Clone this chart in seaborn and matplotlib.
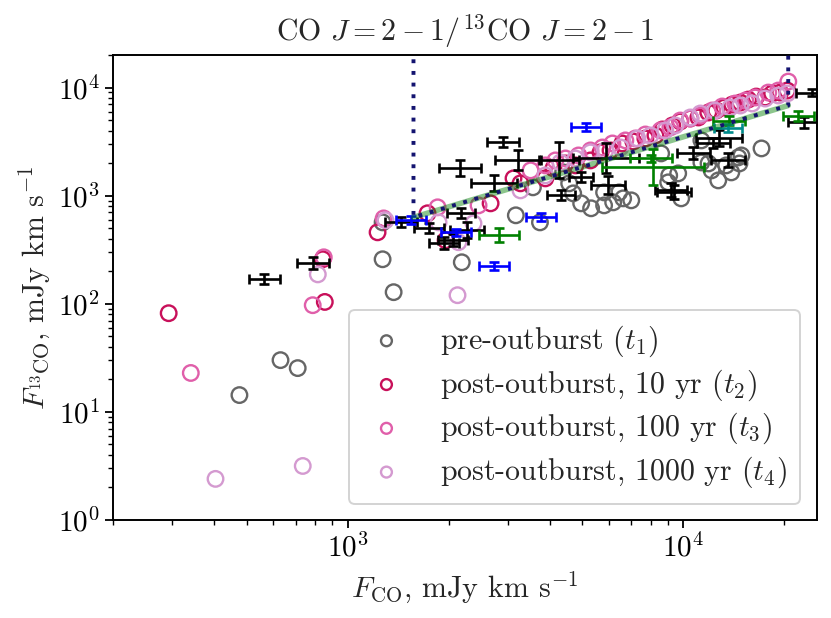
import numpy as np
import pandas as pd
import matplotlib
matplotlib.use("Agg")
import matplotlib.pyplot as plt
import seaborn as sns

# ---------------- data ----------------
# pre-outburst (t1)
t1_x = [476, 631, 710, 1271, 1271, 1371, 2188, 3170, 3741, 3565, 4571, 4699, 4963, 5313,
        5808, 6181, 6620, 6998, 6442, 5808, 4385, 9078, 9656, 9015, 9857, 11320, 11890,
        12140, 12710, 13900, 14590, 17100, 13420, 14700, 14900, 11320, 8590]
t1_y = [14.3, 30.1, 25.4, 566, 258, 128, 242, 658, 566, 1194, 1300, 1050, 849, 764,
        813, 867, 944, 905, 1072, 1072, 1641, 1538, 1607, 1328, 944, 2028, 1985,
        1713, 1384, 1641, 2259, 2735, 1905, 1985, 2355, 3243, 2459]

# post-outburst 10 yr (t2)
t2_x = [293, 855, 843, 1228, 1730, 1958, 2666, 3120, 3273, 3882, 4103, 4456, 4773, 5290,
        5666, 6070, 6580, 7098, 7710, 8260, 8665, 9275, 9795, 10490, 11090, 11870, 12540,
        13250, 13990, 14790, 15610, 16490, 17540, 18400, 19440, 20400]
t2_y = [81.8, 104, 258, 458, 687, 387, 849, 1445, 1300, 1445, 1788, 1987, 1905, 2118,
        2512, 2620, 3040, 3170, 3380, 3605, 4095, 4459, 4855, 5175, 5287, 5876, 6136,
        6537, 6966, 7265, 7742, 8255, 8089, 8812, 8989, 9382]

# post-outburst 100 yr (t3)
t3_x = [341, 787, 849, 1280, 1854, 2455, 3508, 3882, 4159, 4456, 4873, 5290, 5740, 6150,
        6720, 7200, 7710, 8550, 9150, 9795, 10490, 11240, 12200, 13060, 14280, 15300,
        16380, 17910, 19180, 20550]
t3_y = [22.9, 97.0, 269, 616, 780, 813, 1714, 1905, 2118, 2208, 2355, 2620, 2790, 3040,
        3243, 3380, 3680, 4010, 4276, 4955, 5175, 5508, 6136, 6680, 7117, 7585,
        8089, 8989, 9382, 11360]

# post-outburst 1000 yr (t4)
t4_x = [404, 735, 815, 2125, 1297, 1866, 2371, 2139, 3273, 3882, 4305, 4773, 5290, 5860,
        6500, 7300, 7980, 8840, 9470, 10490, 11240, 12450, 13800, 14790, 16040, 17540,
        19180, 20400]
t4_y = [2.40, 3.16, 187, 120, 592, 566, 555, 371, 1119, 1538, 2028, 2208, 2512, 2620,
        2790, 3380, 3605, 4010, 4459, 5287, 5755, 6136, 6537, 6820, 7117, 7912,
        8440, 8812]

# observed fluxes with uncertainties (errors given in dex)
obs_black_x = [565, 787, 1439, 1746, 2173, 2265, 1936, 2057, 2904, 2158, 2729, 3215, 4266,
               5890, 4963, 5970, 4326, 9400, 10720, 12800, 12300, 13610, 9210, 22960, 24100]
obs_black_y = [169, 237, 566, 499, 687, 479, 363, 387, 3105, 1787, 1300, 2118, 2118,
               2208, 1476, 1245, 1007, 1072, 2459, 3450, 3040, 2118, 1119, 4755, 8990]
obs_black_xe = [0.045, 0.048, 0.048, 0.045, 0.042, 0.05, 0.045, 0.045, 0.048, 0.063, 0.069,
                0.069, 0.06, 0.099, 0.036, 0.05, 0.042, 0.05, 0.048, 0.069, 0.048, 0.05,
                0.048, 0.05, 0.045]
obs_black_ye = [0.046, 0.055, 0.046, 0.046, 0.046, 0.074, 0.055, 0.055, 0.046, 0.074, 0.074,
                0.092, 0.166, 0.139, 0.046, 0.083, 0.046, 0.065, 0.055, 0.074, 0.046, 0.065,
                0.065, 0.055, 0.03]

obs_green_x = [2825, 8130, 8020, 13700, 22030]
obs_green_y = [430, 1824, 2208, 4955, 5508]
obs_green_xe = [0.06, 0.152, 0.063, 0.048, 0.045]
obs_green_ye = [0.065, 0.166, 0.03, 0.046, 0.046]

obs_teal_x = [13610]
obs_teal_y = [4181]
obs_teal_xe = [0.042]
obs_teal_ye = [0.037]

obs_blue_x = [5130, 3767, 2729, 1541, 2099]
obs_blue_y = [4276, 631, 222, 592, 458]
obs_blue_xe = [0.045, 0.045, 0.045, 0.045, 0.045]
obs_blue_ye = [0.037, 0.037, 0.037, 0.037, 0.03]

# boundary of the model region
bound_x = [1571, 1571, 20540, 20540]
bound_y = [3e4, 630, 6820, 3e4]
fit_x = [1571, 20540]
fit_y = [630, 6820]

labels = [r"pre-outburst ($t_1$)", r"post-outburst, 10 yr ($t_2$)",
          r"post-outburst, 100 yr ($t_3$)", r"post-outburst, 1000 yr ($t_4$)"]
colors = ["#666666", "#c8105a", "#e05faa", "#d49ad0"]

# ---------------- style ----------------
sns.set_theme(style="ticks")
plt.rcParams.update({
    "font.family": "serif",
    "font.serif": ["cmr10"],
    "mathtext.fontset": "cm",
    "axes.formatter.use_mathtext": True,
    "axes.unicode_minus": False,
    "font.size": 21,
    "axes.linewidth": 1.4,
    "xtick.direction": "out",
    "ytick.direction": "out",
    "xtick.major.size": 6, "ytick.major.size": 6,
    "xtick.minor.size": 3.5, "ytick.minor.size": 3.5,
    "xtick.major.width": 1.3, "ytick.major.width": 1.3,
    "xtick.minor.width": 1.0, "ytick.minor.width": 1.0,
    "xtick.color": "black", "ytick.color": "black",
    "axes.edgecolor": "black",
})

fig = plt.figure(figsize=(8.31, 6.18), dpi=100)
ax = fig.add_axes([0.136, 0.1586, 0.847, 0.7524])
ax.set_xscale("log")
ax.set_yscale("log")

series = [(t1_x, t1_y), (t2_x, t2_y), (t3_x, t3_y), (t4_x, t4_y)]
for (xs, ys), lab, col in zip(series, labels, colors):
    df = pd.DataFrame({"x": xs, "y": ys})
    sns.scatterplot(data=df, x="x", y="y", ax=ax, s=125, marker="o",
                    color=col, facecolor="none", edgecolor=col, linewidth=1.7,
                    label=lab, zorder=2)


def draw_err(xs, ys, xe, ye, col):
    xs = np.asarray(xs, float); ys = np.asarray(ys, float)
    xe = np.asarray(xe, float); ye = np.asarray(ye, float)
    xerr = [xs * (1 - 10 ** -xe), xs * (10 ** xe - 1)]
    yerr = [ys * (1 - 10 ** -ye), ys * (10 ** ye - 1)]
    ax.errorbar(xs, ys, xerr=xerr, yerr=yerr, fmt="none", ecolor=col,
                elinewidth=1.9, capsize=3.8, capthick=1.9, zorder=3)


draw_err(obs_black_x, obs_black_y, obs_black_xe, obs_black_ye, "black")
draw_err(obs_green_x, obs_green_y, obs_green_xe, obs_green_ye, "green")
draw_err(obs_teal_x, obs_teal_y, obs_teal_xe, obs_teal_ye, "darkcyan")
draw_err(obs_blue_x, obs_blue_y, obs_blue_xe, obs_blue_ye, "blue")

sns.lineplot(x=fit_x, y=fit_y, ax=ax, color="green", alpha=0.45, linewidth=4,
             sort=False, estimator=None, zorder=4, legend=False)
ax.plot(bound_x, bound_y, color="#141470", linestyle=(0, (1, 2)), linewidth=2.8, zorder=5)

ax.set_xlim(200, 2.5e4)
ax.set_ylim(1, 2e4)
ax.set_xlabel(r"$F_{\mathrm{CO}}$, mJy km s$^{-1}$", fontsize=21.5, labelpad=5)
ax.set_ylabel(r"$F_{^{13}\mathrm{CO}}$, mJy km s$^{-1}$", fontsize=21.5, labelpad=4)
ax.set_title(r"CO $J=2-1/^{13}$CO $J=2-1$", fontsize=21.5, pad=10)
ax.tick_params(axis="both", which="major", labelsize=21)
for side in ["top", "right", "left", "bottom"]:
    ax.spines[side].set_visible(True)
    ax.spines[side].set_linewidth(1.4)

leg = ax.legend(loc="lower right", fontsize=21.5, markerscale=0.7, frameon=True,
                framealpha=0.85, edgecolor="#cccccc", fancybox=True,
                handlelength=1.6, handletextpad=1.0, borderpad=0.45,
                labelspacing=0.28, borderaxespad=0.55)
leg.get_frame().set_linewidth(1.4)

fig.savefig("out.png", dpi=100)
